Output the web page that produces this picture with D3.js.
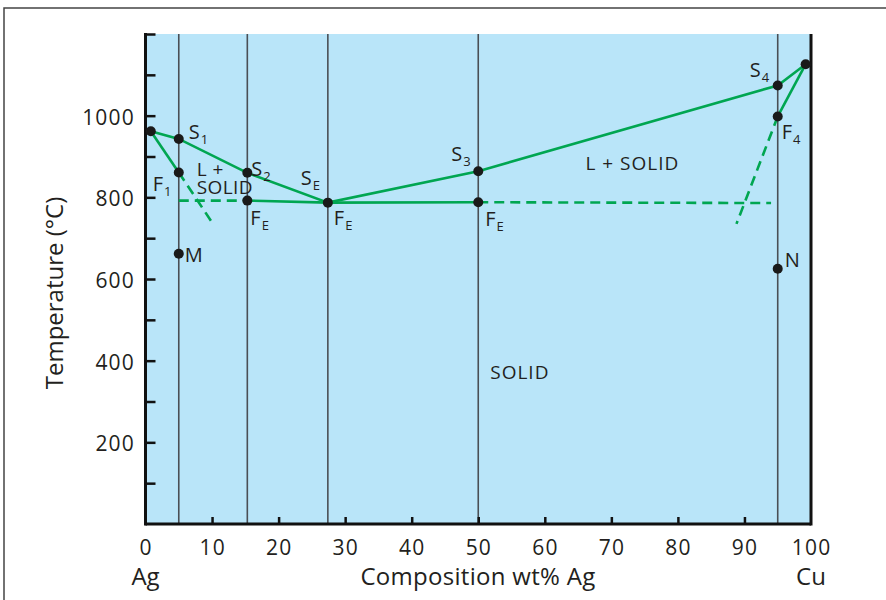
<!DOCTYPE html>
<html>
<head>
<meta charset="utf-8">
<script src="https://cdn.jsdelivr.net/npm/d3@7"></script>
<style>
  body { margin: 0; background: #fff; }
  svg text { font-family: "Open Sans", "DejaVu Sans", sans-serif; fill: #231f20; }
</style>
</head>
<body>
<script>
// composition of the vertical reference lines (wt% Ag)
var verticals = [5, 15.3, 27.4, 50, 95];

// phase boundaries as [composition, temperature]
var liquidus = [[0.8, 962], [5, 943], [15.3, 860], [27.4, 787], [50, 864], [95, 1074], [99.2, 1126]];
var solidusLeft = [[0.8, 962], [5, 861]];
var solidusLeftExt = [[5, 861], [9.9, 741]];
var eutecticLeft = [[5, 792], [15.3, 792]];
var eutectic = [[15.3, 792], [27.4, 787], [50, 788]];
var eutecticRight = [[50, 788], [94, 786]];
var solidusRight = [[99.2, 1126], [95, 998]];
var solidusRightExt = [[95, 998], [88.8, 735]];

// marked points: id, composition, temperature, letter, subscript
var points = [
  ["Ag", 0.8, 962, "", ""],
  ["S1", 5, 943, "S", "1"],
  ["F1", 5, 861, "F", "1"],
  ["S2", 15.3, 860, "S", "2"],
  ["FE1", 15.3, 792, "F", "E"],
  ["SE", 27.4, 787, "S", "E"],
  ["S3", 50, 864, "S", "3"],
  ["FE3", 50, 788, "F", "E"],
  ["S4", 95, 1074, "S", "4"],
  ["F4", 95, 998, "F", "4"],
  ["Cu", 99.2, 1126, "", ""],
  ["M", 5, 662, "M", ""],
  ["N", 95, 625, "N", ""]
];

// region labels: text, composition, temperature
var regions = [
  ["L +", 7.7, 853],
  ["SOLID", 7.7, 809],
  ["L + SOLID", 66.1, 866],
  ["SOLID", 51.8, 355]
];

var xTicks = [0, 10, 20, 30, 40, 50, 60, 70, 80, 90, 100];
var yMinor = [100, 200, 300, 400, 500, 600, 700, 800, 900, 1000, 1100, 1200];
var yLabels = [200, 400, 600, 800, 1000];

var w = 886, h = 600;
var plotLeft = 145.5, plotRight = 811, plotTop = 34, plotBottom = 524;

var svg = d3.select("body").append("svg")
  .attr("width", w)
  .attr("height", h);

// outer frame (runs off the right and bottom edges)
svg.append("rect")
  .attr("x", 4).attr("y", 8)
  .attr("width", w + 20).attr("height", h + 20)
  .attr("fill", "none")
  .attr("stroke", "#444")
  .attr("stroke-width", 1.5);

var x = d3.scaleLinear().domain([0, 100]).range([plotLeft, plotRight]);
var y = d3.scaleLinear().domain([0, 1200]).range([plotBottom, plotTop]);

svg.append("rect")
  .attr("x", plotLeft).attr("y", plotTop)
  .attr("width", plotRight - plotLeft).attr("height", plotBottom - plotTop)
  .attr("fill", "#b9e5f9");

// vertical composition lines
svg.append("g").selectAll("line")
  .data(verticals)
  .enter().append("line")
  .attr("x1", function (d) { return x(d); })
  .attr("x2", function (d) { return x(d); })
  .attr("y1", plotTop).attr("y2", plotBottom)
  .attr("stroke", "#4a4f55")
  .attr("stroke-width", 1.6);

var line = d3.line()
  .x(function (d) { return x(d[0]); })
  .y(function (d) { return y(d[1]); });

var green = "#00a651";
[liquidus, solidusLeft, eutectic, solidusRight].forEach(function (p) {
  svg.append("path").attr("d", line(p))
    .attr("fill", "none").attr("stroke", green).attr("stroke-width", 2.6);
});
[solidusLeftExt, eutecticLeft, eutecticRight, solidusRightExt].forEach(function (p) {
  svg.append("path").attr("d", line(p))
    .attr("fill", "none").attr("stroke", green).attr("stroke-width", 2.6)
    .attr("stroke-dasharray", "10,6");
});

// axes: left and bottom thick lines, plus right border
svg.append("line").attr("x1", plotLeft).attr("x2", plotLeft).attr("y1", plotTop - 1).attr("y2", plotBottom + 1.5)
  .attr("stroke", "#111").attr("stroke-width", 3);
svg.append("line").attr("x1", plotLeft).attr("x2", plotRight).attr("y1", plotBottom).attr("y2", plotBottom)
  .attr("stroke", "#111").attr("stroke-width", 3);
svg.append("line").attr("x1", plotRight).attr("x2", plotRight).attr("y1", plotTop).attr("y2", plotBottom + 1.5)
  .attr("stroke", "#111").attr("stroke-width", 3);

var yAxis = d3.axisRight(y).tickValues(yMinor).tickSize(10).tickFormat("");
svg.append("g").attr("transform", "translate(" + plotLeft + ",0)").call(yAxis)
  .call(function (g) {
    g.select(".domain").remove();
    g.selectAll(".tick line").attr("stroke", "#111").attr("stroke-width", 2.5);
  });

var xAxis = d3.axisTop(x).tickValues(xTicks.slice(1, -1)).tickSize(7).tickFormat("");
svg.append("g").attr("transform", "translate(0," + plotBottom + ")").call(xAxis)
  .call(function (g) {
    g.select(".domain").remove();
    g.selectAll(".tick line").attr("stroke", "#111").attr("stroke-width", 2.5);
  });

// tick labels
svg.append("g").selectAll("text")
  .data(yLabels)
  .enter().append("text")
  .attr("x", 135)
  .attr("y", function (d) { return y(d) + 9; })
  .attr("text-anchor", "end")
  .style("font-size", "21px")
  .style("letter-spacing", "1.2px")
  .text(function (d) { return d; });

svg.append("g").selectAll("text")
  .data(xTicks)
  .enter().append("text")
  .attr("x", function (d) { return x(d) + 0.6; })
  .attr("y", 555)
  .attr("text-anchor", "middle")
  .style("font-size", "21px")
  .style("letter-spacing", "1.2px")
  .text(function (d) { return d; });

svg.append("text").attr("x", x(0)).attr("y", 585).attr("text-anchor", "middle")
  .style("font-size", "24px").text("Ag");
svg.append("text").attr("x", x(100)).attr("y", 585).attr("text-anchor", "middle")
  .style("font-size", "24px").text("Cu");
svg.append("text").attr("x", 478).attr("y", 585).attr("text-anchor", "middle")
  .style("font-size", "24px").style("letter-spacing", "0.3px").text("Composition wt% Ag");
svg.append("text")
  .attr("transform", "translate(63,293) rotate(-90)")
  .attr("text-anchor", "middle")
  .style("font-size", "24px")
  .text("Temperature (°C)");

// region labels
svg.append("g").selectAll("text")
  .data(regions)
  .enter().append("text")
  .attr("x", function (d) { return x(d[1]); })
  .attr("y", function (d) { return y(d[2]); })
  .style("font-size", "19px")
  .style("letter-spacing", function (d, i) { return i < 2 ? "0.4px" : "1px"; })
  .text(function (d) { return d[0]; });

// dots
svg.append("g").selectAll("circle")
  .data(points)
  .enter().append("circle")
  .attr("cx", function (d) { return x(d[1]); })
  .attr("cy", function (d) { return y(d[2]); })
  .attr("r", 5)
  .attr("fill", "#1a1a1a");

// point label offsets in pixels
var offsets = {
  S1: [10, 0], F1: [-26, 19], S2: [4, 3], FE1: [3, 24], SE: [-27, -18],
  S3: [-27, -10], FE3: [7, 24], S4: [-28, -8], F4: [4, 23], M: [6, 8], N: [7, -2]
};

var labs = svg.append("g").selectAll("text")
  .data(points.filter(function (d) { return d[3] !== ""; }))
  .enter().append("text")
  .attr("x", function (d) { return x(d[1]) + offsets[d[0]][0]; })
  .attr("y", function (d) { return y(d[2]) + offsets[d[0]][1]; })
  .style("font-size", "20px");
labs.append("tspan").text(function (d) { return d[3]; });
labs.append("tspan")
  .attr("dx", 1).attr("dy", 5)
  .style("font-size", "13px")
  .text(function (d) { return d[4]; });

// extra FE label at the eutectic point
svg.append("text")
  .attr("x", x(27.4) + 6).attr("y", y(787) + 22)
  .style("font-size", "20px")
  .text("F")
  .append("tspan").attr("dx", 1).attr("dy", 5).style("font-size", "13px").text("E");
</script>
</body>
</html>
